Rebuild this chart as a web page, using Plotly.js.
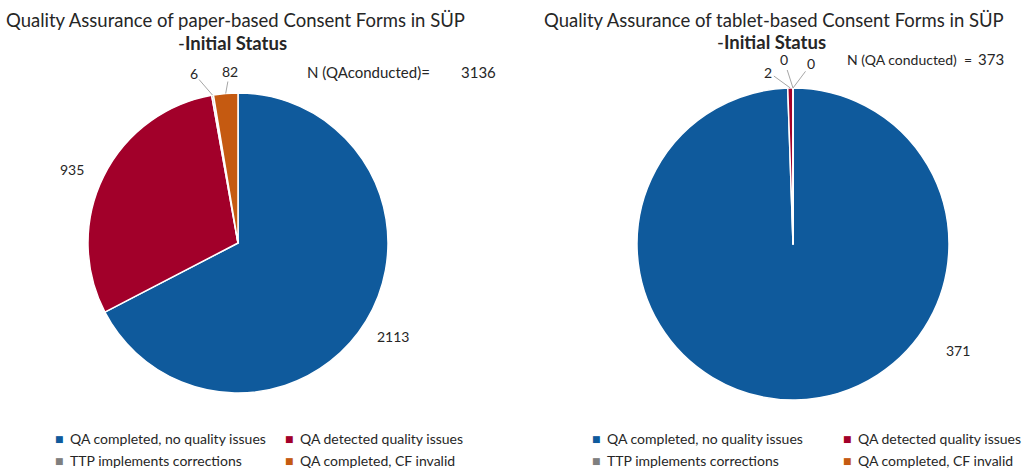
<!DOCTYPE html>
<html>
<head>
<meta charset="utf-8">
<script src="https://cdn.plot.ly/plotly-3.0.1.min.js"></script>
<style>html,body{margin:0;padding:0;background:#fff;}#chart{width:1022px;height:472px;}</style>
</head>
<body>
<div id="chart"></div>
<script>
// ---- data ----
const categories = ["QA completed, no quality issues", "QA detected quality issues", "TTP implements corrections", "QA completed, CF invalid"];
const paperValues = [2113, 935, 6, 82];
const tabletValues = [371, 2, 0, 0];
const sliceColors = ["#0f5a9c", "#a2002a", "#7f7f7f", "#c55a11"];
const paperTitle = "Quality Assurance of paper-based Consent Forms in SÜP";
const tabletTitle = "Quality Assurance of tablet-based Consent Forms in SÜP";
const subTitle = "-<b>Initial Status</b>";
const paperNLabel = "N (QAconducted)=";
const tabletNLabel = "N (QA conducted)  =";
const paperN = 3136;
const tabletN = 373;

// ---- styles ----
const W = 1022, H = 472;
const FONT = "Lato, 'Open Sans', sans-serif";
const TXT = "#262626";
const paperDomain = {x: [88 / W, 388 / W], y: [(H - 393) / H, (H - 93) / H]};
const tabletDomain = {x: [637 / W, 949 / W], y: [(H - 400) / H, (H - 88) / H]};
// label placement per slice: [dx, dy, leaderLine] in px from the slice's outer mid point
const paperLabelPos = [[27, 16, false], [-31, -7, false], [-19, -22, true], [4, -22, true]];
const tabletLabelPos = [[162, -49, false], [-22, -16, true], [-9, -28, true], [18, -24, true]];

const common = {
  type: "pie",
  labels: categories,
  sort: false,
  direction: "clockwise",
  rotation: 0,
  textinfo: "none",
  textposition: "none",
  marker: {colors: sliceColors, line: {color: "#ffffff", width: 1.5}},
  hoverinfo: "label+value",
  showlegend: false
};

const traces = [
  Object.assign({}, common, {values: paperValues, domain: paperDomain}),
  Object.assign({}, common, {values: tabletValues, domain: tabletDomain})
];

function ann(text, x, y, opts) {
  return Object.assign({text: text, x: x / W, y: 1 - y / H, xref: "paper", yref: "paper", showarrow: false,
    xanchor: "center", yanchor: "middle", font: {family: FONT, size: 14, color: TXT}}, opts || {});
}

const TITLE_FONT = {family: FONT, size: 18.5, color: TXT};
const annotations = [
  ann(paperTitle, 235, 20, {font: TITLE_FONT}),
  ann(subTitle, 232, 43, {font: TITLE_FONT}),
  ann(tabletTitle, 774, 20, {font: TITLE_FONT}),
  ann(subTitle, 771, 42, {font: TITLE_FONT}),
  ann(paperNLabel, 305, 72, {xanchor: "left", font: {family: FONT, size: 15, color: TXT}}),
  ann(String(paperN), 498, 72, {xanchor: "right", font: {family: FONT, size: 15, color: TXT}}),
  ann(tabletNLabel, 845, 59, {xanchor: "left", font: {family: FONT, size: 14, color: TXT}}),
  ann(String(tabletN), 1006, 59, {xanchor: "right", font: {family: FONT, size: 15, color: TXT}})
];

// legends (two columns under each pie)
const legendCols = [[59, 289], [596, 847]];
const legendRows = [438, 460];
legendCols.forEach(cols => {
  categories.forEach((c, i) => {
    const x = cols[i % 2], y = legendRows[Math.floor(i / 2)];
    annotations.push(ann("■", x, y + 1, {font: {family: "DejaVu Sans", size: 9, color: sliceColors[i]}}));
    annotations.push(ann(c, x + 9, y, {xanchor: "left", font: {family: FONT, size: 14, color: TXT}}));
  });
});

const layout = {
  width: W, height: H,
  margin: {l: 0, r: 0, t: 0, b: 0},
  paper_bgcolor: "#ffffff",
  font: {family: FONT, color: TXT},
  showlegend: false,
  annotations: annotations
};

Plotly.newPlot("chart", traces, layout, {displayModeBar: false, staticPlot: true}).then(gd => {
  const extra = [];
  [[paperValues, paperLabelPos, paperDomain], [tabletValues, tabletLabelPos, tabletDomain]].forEach((set, ti) => {
    const vals = set[0], pos = set[1], dom = set[2];
    const cd0 = (gd.calcdata && gd.calcdata[ti] && gd.calcdata[ti][0]) || {};
    const cx = cd0.cx != null ? cd0.cx : W * (dom.x[0] + dom.x[1]) / 2;
    const cy = cd0.cy != null ? cd0.cy : H * (1 - (dom.y[0] + dom.y[1]) / 2);
    const r = cd0.r != null ? cd0.r : Math.min(W * (dom.x[1] - dom.x[0]), H * (dom.y[1] - dom.y[0])) / 2;
    const total = vals.reduce((a, b) => a + b, 0);
    let cum = 0;
    vals.forEach((v, i) => {
      const th = 2 * Math.PI * (cum + v / 2) / total;
      cum += v;
      const p = pos[i];
      const px = cx + r * Math.sin(th), py = cy - r * Math.cos(th);
      const a = {text: String(v), x: px / W, y: 1 - py / H, xref: "paper", yref: "paper",
        font: {family: FONT, size: 14, color: TXT}};
      if (p[2]) {
        Object.assign(a, {showarrow: true, arrowhead: 0, arrowwidth: 1, arrowcolor: "#a6a6a6", standoff: 0,
          ax: p[0], ay: p[1]});
      } else {
        Object.assign(a, {showarrow: false, xanchor: "center", yanchor: "middle", xshift: p[0], yshift: -p[1]});
      }
      extra.push(a);
    });
  });
  return Plotly.relayout(gd, {annotations: annotations.concat(extra)});
});
</script>
</body>
</html>
